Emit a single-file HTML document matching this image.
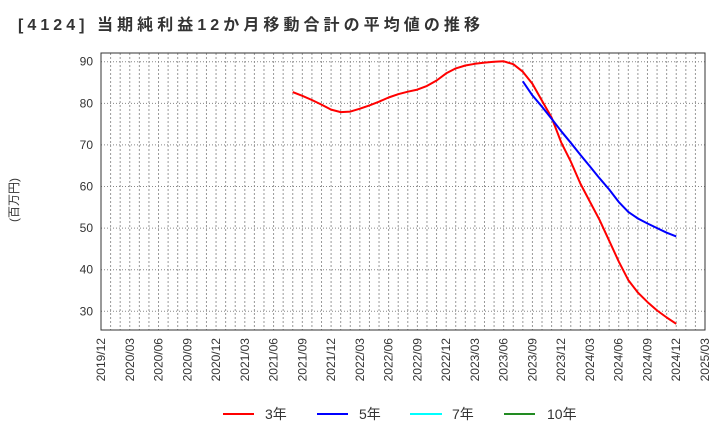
<!DOCTYPE html>
<html><head><meta charset="utf-8">
<style>
body{margin:0;background:#fff;}
svg text{font-family:"Liberation Sans","Noto Sans CJK JP",sans-serif;}
</style></head>
<body>
<svg id="chart" width="720" height="440" xmlns="http://www.w3.org/2000/svg">
<text x="18" y="30" font-size="16" font-weight="bold" fill="#333" textLength="462" lengthAdjust="spacing">[4124]  当期純利益12か月移動合計の平均値の推移</text>
<text transform="translate(18,200) rotate(-90)" font-size="12" fill="#333" text-anchor="middle">(百万円)</text>
<g id="grid"></g>
<g id="yticks"></g>
<g id="xticks"></g>
<g id="series"></g>
<rect x="101" y="53" width="604" height="277" fill="none" stroke="#333" stroke-width="1"/>
<g>
<g><line x1="223" y1="414" x2="254" y2="414" stroke="#ff0000" stroke-width="2"/><text x="265" y="419" font-size="14" fill="#333">3年</text></g>
<g><line x1="317" y1="414" x2="348" y2="414" stroke="#0000ff" stroke-width="2"/><text x="359" y="419" font-size="14" fill="#333">5年</text></g>
<g><line x1="410" y1="414" x2="442" y2="414" stroke="#00ffff" stroke-width="2"/><text x="452" y="419" font-size="14" fill="#333">7年</text></g>
<g><line x1="504" y1="414" x2="535" y2="414" stroke="#228b22" stroke-width="2"/><text x="547" y="419" font-size="14" fill="#333">10年</text></g>
</g>
</svg>
<script>
const xLabels=["2019/12","2020/03","2020/06","2020/09","2020/12","2021/03","2021/06","2021/09","2021/12","2022/03","2022/06","2022/09","2022/12","2023/03","2023/06","2023/09","2023/12","2024/03","2024/06","2024/09","2024/12","2025/03"];
const yTicks=[30,40,50,60,70,80,90];
const red3Start=20; // month index from 2019/12 (2021/08)
const red3=[82.7,81.8,80.8,79.7,78.5,77.9,78.0,78.7,79.5,80.4,81.4,82.2,82.8,83.3,84.2,85.5,87.2,88.4,89.1,89.5,89.8,90.0,90.1,89.4,87.6,84.7,80.6,76.6,70.6,66.0,60.7,56.3,52.0,47.0,42.0,37.5,34.5,32.2,30.2,28.5,27.0];
const blue5Start=44; // 2023/08
const blue5=[85.3,81.9,79.2,76.3,73.3,70.5,67.6,64.8,62.0,59.3,56.3,53.9,52.3,51.1,50.0,48.9,48.0];

const NS="http://www.w3.org/2000/svg";
const L=101,R=705,T=53,B=330,MONTHS=63;
const yMin=25.5,yMax=92.1;
function xs(m){return L+m*(R-L)/MONTHS;}
function ys(v){return B-(v-yMin)/(yMax-yMin)*(B-T);}
function mk(tag,attrs,parent){const e=document.createElementNS(NS,tag);for(const k in attrs)e.setAttribute(k,attrs[k]);parent.appendChild(e);return e;}
const grid=document.getElementById('grid');
for(let m=1;m<MONTHS;m++){
 const l=mk('line',{x1:xs(m),x2:xs(m),y1:T,y2:B,stroke:'#999','stroke-width':1,'stroke-dasharray':'2,2'},grid);
 
 
}
const yt=document.getElementById('yticks');
yTicks.forEach(v=>{
 const l=mk('line',{x1:L,x2:R,y1:ys(v),y2:ys(v),stroke:'#888','stroke-width':1,'stroke-dasharray':'1,2'},grid);
 
 
 const t=mk('text',{x:L-8,y:ys(v)+4,'font-size':12,fill:'#333','text-anchor':'end'},yt);
 t.textContent=v;
 
 
});
const xt=document.getElementById('xticks');
xLabels.forEach((s,i)=>{
 const x=xs(i*3);
 const t=mk('text',{transform:`translate(${x+4},${B+8}) rotate(-90)`,'font-size':12,fill:'#333','text-anchor':'end'},xt);
 t.textContent=s;
 
 
});
const sg=document.getElementById('series');
function line(arr,start,color,name){
 const pts=arr.map((v,i)=>xs(start+i).toFixed(1)+','+ys(v).toFixed(1)).join(' ');
 const p=mk('polyline',{points:pts,fill:'none',stroke:color,'stroke-width':2,'stroke-linejoin':'round'},sg);
 
 
}
line(red3,red3Start,'#ff0000','series-3y');
line(blue5,blue5Start,'#0000ff','series-5y');
</script>
</body></html>
